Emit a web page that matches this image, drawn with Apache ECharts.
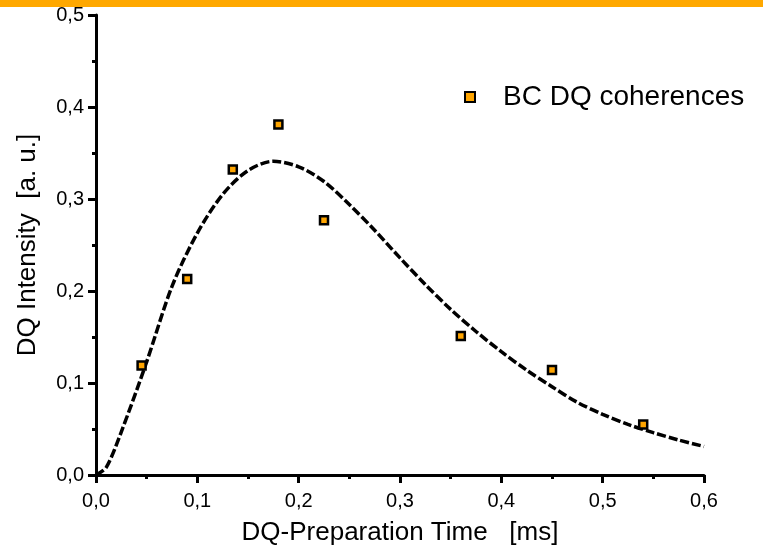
<!DOCTYPE html>
<html>
<head>
<meta charset="utf-8">
<script src="https://cdn.jsdelivr.net/npm/echarts@6/dist/echarts.min.js"></script>
<style>
html,body{margin:0;padding:0;background:#fff;}
#chart{width:763px;height:553px;}
</style>
</head>
<body>
<div id="chart"></div>
<script>
// Measured data points (BC DQ coherences)
const pointTimes = [0.045, 0.09, 0.135, 0.18, 0.225, 0.36, 0.45, 0.54];
const pointValues = [0.119, 0.213, 0.332, 0.381, 0.277, 0.151, 0.114, 0.055];

// Fitted curve
const fitTimes = [0, 0.01, 0.025, 0.05, 0.075, 0.1, 0.125, 0.15, 0.175, 0.2, 0.225, 0.25, 0.275, 0.3, 0.325, 0.35, 0.375, 0.4, 0.425, 0.45, 0.475, 0.5, 0.525, 0.55, 0.575, 0.6];
const fitValues = [0, 0.008, 0.047, 0.123, 0.205, 0.263, 0.305, 0.331, 0.341, 0.335, 0.319, 0.294, 0.266, 0.236, 0.207, 0.180, 0.156, 0.134, 0.114, 0.096, 0.079, 0.066, 0.055, 0.046, 0.038, 0.031];

const xTickLabels = ['0,0','0,1','0,2','0,3','0,4','0,5','0,6'];
const yTickLabels = ['0,0','0,1','0,2','0,3','0,4','0,5'];

const seriesName = 'BC DQ coherences';
const xTitle = 'DQ-Preparation Time   [ms]';
const yTitle = 'DQ Intensity  [a. u.]';

const FONT = 'Liberation Sans, Arial, sans-serif';
const chart = echarts.init(document.getElementById('chart'), null, {renderer:'canvas'});

const axisCommon = {
  axisLine: {show: true, onZero: false, lineStyle: {color: '#000', width: 3}},
  axisTick: {show: true, inside: false, length: 8, lineStyle: {color: '#000', width: 3}},
  minorTick: {show: true, splitNumber: 2, length: 4, lineStyle: {color: '#000', width: 3}},
  splitLine: {show: false},
  minorSplitLine: {show: false}
};

chart.setOption({
  animation: false,
  backgroundColor: '#fff',
  graphic: [{
    type: 'rect', left: 0, top: 0,
    shape: {width: 763, height: 7},
    style: {fill: '#FFA800'}
  }],
  grid: {left: 96, top: 15, right: 59, bottom: 78, containLabel: false},
  legend: {
    show: true,
    data: [seriesName],
    left: 459, top: 78,
    itemWidth: 10, itemHeight: 10,
    icon: 'rect',
    textStyle: {fontFamily: FONT, fontSize: 28, color: '#000', padding: [0,0,0,23]}
  },
  xAxis: Object.assign({
    type: 'value', min: 0, max: 0.6, interval: 0.1,
    name: xTitle, nameLocation: 'middle', nameGap: 45,
    nameTextStyle: {fontFamily: FONT, fontSize: 26, color: '#000'},
    axisLabel: {fontFamily: FONT, fontSize: 20, color: '#000', margin: 16,
      formatter: (v) => xTickLabels[Math.round(v * 10)]}
  }, axisCommon),
  yAxis: Object.assign({
    type: 'value', min: 0, max: 0.5, interval: 0.1,
    name: yTitle, nameLocation: 'middle', nameGap: 55, nameRotate: 90,
    nameTextStyle: {fontFamily: FONT, fontSize: 26, color: '#000'},
    axisLabel: {fontFamily: FONT, fontSize: 20, color: '#000', margin: 12,
      formatter: (v) => yTickLabels[Math.round(v * 10)]}
  }, axisCommon),
  series: [
    {
      name: 'fit', type: 'line', smooth: 0.3, showSymbol: false, silent: true,
      data: fitTimes.map((t, i) => [t, fitValues[i]]),
      lineStyle: {color: '#000', width: 3.5, type: [9, 3]},
      z: 2
    },
    {
      name: seriesName, type: 'scatter', symbol: 'rect', symbolSize: 8,
      data: pointTimes.map((t, i) => [t, pointValues[i]]),
      itemStyle: {color: '#FFA500', borderColor: '#000', borderWidth: 2.5, opacity: 1},
      z: 3
    }
  ]
});
</script>
</body>
</html>
